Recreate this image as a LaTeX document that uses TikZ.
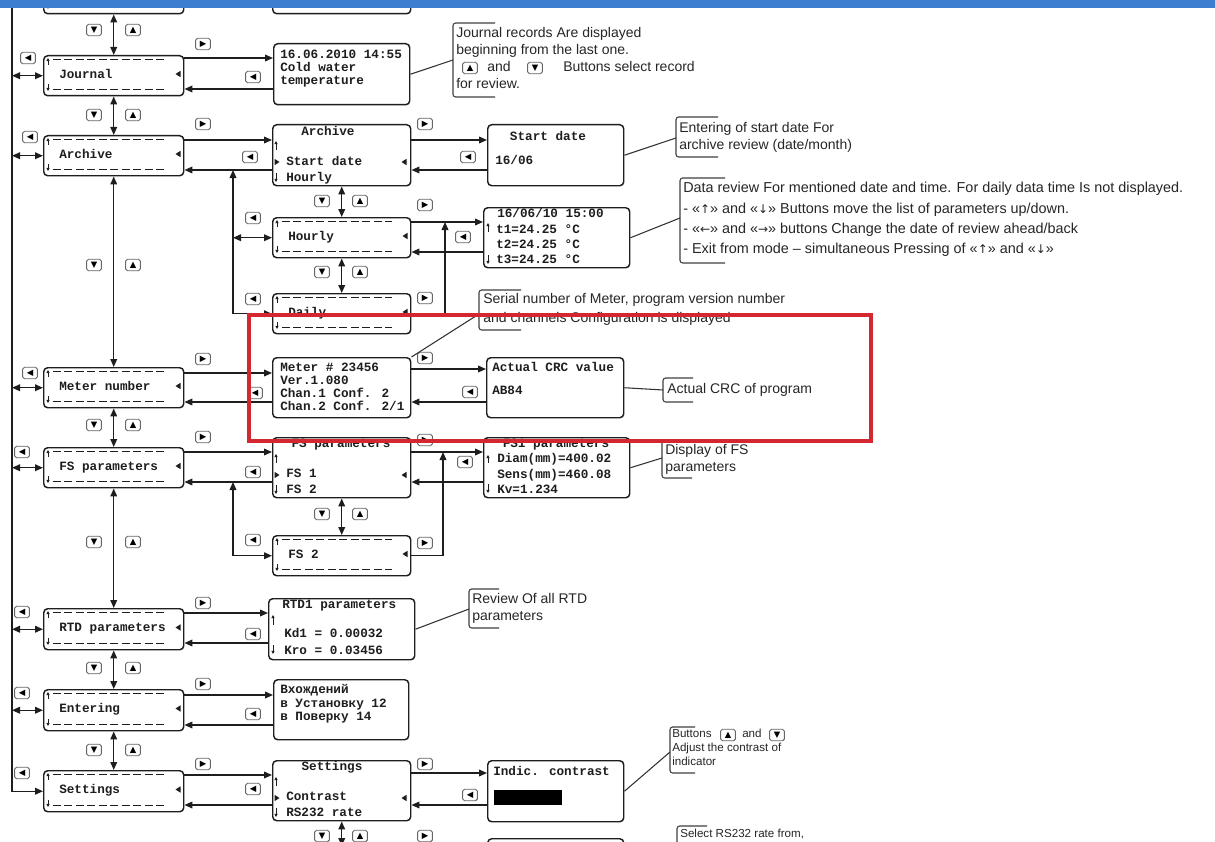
\documentclass[tikz,border=0pt]{standalone}
\usepackage{fontspec}
\setmainfont{Liberation Sans}
\newfontfamily\lcdfont{Liberation Mono}
\newfontfamily\symfont{DejaVu Sans}
\usetikzlibrary{arrows.meta,calc}
\definecolor{redbox}{RGB}{212,40,48}
\definecolor{topbar}{RGB}{62,126,208}
\definecolor{ln}{RGB}{30,30,30}
\newcounter{tn}
\newcounter{bn}
\newcommand\ua{{\symfont\fontsize{9}{10}\selectfont ↑}}
\newcommand\da{{\symfont\fontsize{9}{10}\selectfont ↓}}
\newcommand\la{{\symfont\fontsize{9}{10}\selectfont ←}}
\newcommand\ra{{\symfont\fontsize{9}{10}\selectfont →}}
\tikzset{
 box/.style={draw=ln, line width=1.1pt, rounded corners=3pt, inner sep=0pt, anchor=north west, fill=white},
 arr/.style={draw=ln, line width=1.1pt, -{Triangle[length=6pt,width=5pt]}},
 darr/.style={draw=ln, line width=1.1pt, {Triangle[length=6pt,width=5pt]}-{Triangle[length=6pt,width=5pt]}},
 dsh/.style={draw=ln, line width=0.9pt, dash pattern=on 6pt off 2.6pt},
 tiny/.style={draw=ln, line width=0.6pt, -{Triangle[length=2.4pt,width=2.4pt]}},
 lcd/.style={font=\lcdfont\bfseries\fontsize{9.5}{11}\selectfont, inner sep=0pt, text=ln, text height=6.5pt, text depth=1.5pt},
 note/.style={font=\fontsize{10.5}{12}\selectfont, inner sep=0pt, text=black!85, text height=7pt, text depth=2pt},
 notew/.style={note, font=\fontsize{10.8}{12}\selectfont},
 small/.style={font=\fontsize{8.7}{9.5}\selectfont, inner sep=0pt, text=black!85, text height=6pt, text depth=1.6pt},
 btnbox/.style={draw=black!60, line width=0.7pt, rounded corners=1.3pt, minimum width=11pt, minimum height=8.6pt, inner sep=0pt, font=\symfont\fontsize{6.3}{6.3}\selectfont, fill=white},
 brk/.style={draw=black!75, line width=0.8pt, rounded corners=2pt},
 lead/.style={draw=black!80, line width=0.8pt},
}
\newcommand\mup[3]{\draw[tiny] (#1,#3) -- (#1,#2);}
\newcommand\mdn[3]{\draw[tiny] (#1,#2) -- (#1,#3);}
\newcommand\mrt[2]{\fill[ln] (#1-2.5,#2-3.2) -- (#1+2.5,#2) -- (#1-2.5,#2+3.2) -- cycle;}
\newcommand\mlt[2]{\fill[ln] (#1+2.5,#2-3.2) -- (#1-2.5,#2) -- (#1+2.5,#2+3.2) -- cycle;}
\newcommand\lbdeco[4]{%
 \draw[dsh] (#1+10,#2+4.5) -- (#1+#3-18,#2+4.5);
 \draw[dsh] (#1+10,#2+#4-5.5) -- (#1+#3-18,#2+#4-5.5);
 \mup{#1+5}{#2+3}{#2+10}
 \mdn{#1+5}{#2+#4-11}{#2+#4-4}
 \mlt{#1+#3-5}{#2+#4/2-1}}
\newcommand\menumarks[4]{%
 \mup{#1+4}{#2+17}{#2+26}
 \mrt{#1+5}{#2+38}
 \mdn{#1+4}{#2+#4-12}{#2+#4-3}
 \mlt{#1+#3-6}{#2+38}}
\newcommand\lbox[6]{%
 \node[box,minimum width=#4*0.75pt,minimum height=#5*0.75pt] (#1) at (#2,#3) {};
 \lbdeco{#2}{#3}{#4}{#5}
 \node[lcd,anchor=west] (#1-l) at (#2+16,#3+#5/2) {#6};}
\newcommand\scr[5]{\node[box,minimum width=#4*0.75pt,minimum height=#5*0.75pt] (#1) at (#2,#3) {};}
\newcommand\tx[4]{\stepcounter{tn}\node[#1,anchor=west] (t\arabic{tn}) at (#2,#3) {#4};}
\newcommand\txc[4]{\stepcounter{tn}\node[#1,anchor=center] (t\arabic{tn}) at (#2,#3) {#4};}
\newcommand\btn[3]{\stepcounter{bn}\node[btnbox] (b\arabic{bn}) at (#1,#2) {#3};}
\newcommand\hlink[4]{%
 \draw[arr] (#1.east |- 0,#3) -- (#2.west |- 0,#3);
 \draw[arr] (#2.west |- 0,#4) -- (#1.east |- 0,#4);}
\newcommand\callbrk[4]{\draw[brk] (#1+#4,#2) -- (#1,#2) -- (#1,#3) -- (#1+#4,#3);}

\begin{document}
\begin{tikzpicture}[x=0.75pt,y=-0.75pt]
\useasboundingbox (0,0) rectangle (1215,842);
\fill[white] (0,0) rectangle (1215,842);

% ---------- column 1 ----------
\lbox{L0}{43}{-27}{140}{40}{}
\lbox{jl}{43}{55}{140}{40}{Journal}
\lbox{al}{43}{135}{140}{40}{Archive}
\lbox{ml}{43}{367}{140}{40}{Meter number}
\lbox{fl}{43}{447}{140}{40}{FS parameters}
\lbox{rl}{43}{608}{140}{41}{RTD parameters}
\lbox{el}{43}{689}{140}{41}{Entering}
\lbox{sl}{43}{770}{140}{41}{Settings}

% ---------- column 2 ----------
\scr{C0}{272}{-47}{138}{60}
\scr{jr}{273}{43}{136}{61}
\scr{ar}{272}{124}{138}{61}
\menumarks{272}{124}{138}{61}
\lbox{hr}{272}{217}{138}{40}{Hourly}
\lbox{dy}{272}{293}{138}{40}{Daily}
\scr{mr}{272}{357}{138}{60}
\scr{fr}{272}{437}{138}{60}
\menumarks{272}{437}{138}{60}
\lbox{f2}{272}{535}{138}{40}{FS 2}
\scr{rr}{268}{598}{146}{61}
\scr{er}{273}{679}{135}{60}
\scr{sr}{272}{760}{138}{60}
\menumarks{272}{760}{138}{60}
\scr{C9}{272}{846}{138}{40}

% ---------- column 3 ----------
\scr{sd}{487}{124}{136}{61}
\scr{hd}{483}{207}{146}{60}
\scr{cr}{486}{357}{137}{60}
\scr{fp}{483}{437}{146}{60}
\scr{ic}{487}{760}{136}{61}
\scr{D9}{487}{838}{136}{60}

% data marks
\mup{488}{223}{232} \mdn{488}{255}{264}
\mup{488}{455}{463} \mdn{488}{484}{493}
\mup{273}{615}{625} \mdn{273}{645}{654}

% ---------- screen texts ----------
\tx{lcd}{280}{55}{16.06.2010 14:55}
\tx{lcd}{280}{68}{Cold water}
\tx{lcd}{280}{81}{temperature}
\txc{lcd}{328}{132}{Archive}
\tx{lcd}{286}{162}{Start date}
\tx{lcd}{286}{178}{Hourly}
\txc{lcd}{548}{137}{Start date}
\tx{lcd}{495}{161}{16/06}
\tx{lcd}{497}{214}{16/06/10 15:00}
\tx{lcd}{496}{230}{t1=24.25 °C}
\tx{lcd}{496}{245}{t2=24.25 °C}
\tx{lcd}{496}{260}{t3=24.25 °C}
\tx{lcd}{280}{368}{Meter \# 23456}
\tx{lcd}{280}{381}{Ver.1.080}
\tx{lcd}{280}{394}{Chan.1 Conf. 2}
\tx{lcd}{280}{407}{Chan.2 Conf. 2/1}
\tx{lcd}{492}{368}{Actual CRC value}
\tx{lcd}{492}{391}{AB84}
\txc{lcd}{341}{444}{FS parameters}
\tx{lcd}{286}{474}{FS 1}
\tx{lcd}{286}{490}{FS 2}
\txc{lcd}{556}{444}{FS1 parameters}
\tx{lcd}{497}{459}{Diam(mm)=400.02}
\tx{lcd}{497}{475}{Sens(mm)=460.08}
\tx{lcd}{497}{490}{Kv=1.234}
\tx{lcd}{282}{605}{RTD1 parameters}
\tx{lcd}{284}{634}{Kd1 = 0.00032}
\tx{lcd}{284}{651}{Kro = 0.03456}
\tx{lcd}{280}{690}{Вхождений}
\tx{lcd}{280}{704}{в Установку 12}
\tx{lcd}{280}{717}{в Поверку 14}
\txc{lcd}{332}{767}{Settings}
\tx{lcd}{286}{797}{Contrast}
\tx{lcd}{286}{813}{RS232 rate}
\tx{lcd}{493}{772}{Indic. contrast}
\fill[black] (494,790) rectangle (562,805);

% ---------- connectors ----------
\coordinate (vt) at (12,8);
\draw[arr] (vt) |- (sl.west);
\foreach \n in {jl,al,ml,fl,rl,el}{\draw[darr] (vt |- \n.west) -- (\n.west);}
\draw[darr] (L0.south) -- (jl.north);
\draw[darr] (jl.south) -- (al.north);
\draw[darr] (al.south) -- (ml.north);
\draw[darr] (ml.south) -- (fl.north);
\draw[darr] (fl.south) -- (rl.north);
\draw[darr] (rl.south) -- (el.north);
\draw[darr] (el.south) -- (sl.north);
\draw[darr] (ar.south) -- (hr.north);
\draw[darr] (hr.south) -- (dy.north);
\draw[darr] (fr.south) -- (f2.north);
\draw[darr] (sr.south) -- (C9.north);

\hlink{jl}{jr}{58}{89}
\hlink{al}{ar}{140}{170}
\hlink{ml}{mr}{373}{402}
\hlink{fl}{fr}{452}{482}
\hlink{rl}{rr}{613}{643}
\hlink{el}{er}{695}{725}
\hlink{sl}{sr}{775}{805}
\hlink{ar}{sd}{140}{170}
\hlink{hr}{hd}{222}{252}
\hlink{mr}{cr}{369}{402}
\hlink{fr}{fp}{452}{482}
\hlink{sr}{ic}{773}{805}

\coordinate (aj) at (233,170);
\draw[darr] (dy.west) -| (aj);
\draw[darr] (aj |- hr.west) -- (hr.west);
\coordinate (hj) at (445,222);
\draw[arr] (dy.east) -| (hj);
\coordinate (fj) at (233,482);
\draw[darr] (f2.west) -| (fj);
\coordinate (fk) at (443,452);
\draw[arr] (f2.east) -| (fk);

% ---------- buttons ----------
\foreach \x/\y in {28/58,30/137,30/373,22/452,22/612,22/693,22/773,253/77,250/157,255/393,253/472,253/634,253/714,253/789,253/218,253/299,253/540,468/157,463/237,470/392,465/462,470/795}{\btn{\x}{\y}{◀}}
\foreach \x/\y in {203/44,203/124,203/359,203/437,203/603,203/684,203/764,425/124,425/205,425/298,425/358,425/440,425/543,425/764,425/836}{\btn{\x}{\y}{▶}}
\foreach \y in {30,115,265,425,542,668,750}{\btn{94}{\y}{▼}\btn{133}{\y}{▲}}
\foreach \y in {201,272,514,836}{\btn{322}{\y}{▼}\btn{360}{\y}{▲}}

% ---------- callouts ----------
\callbrk{453}{23}{97}{42}
\coordinate (cj) at (453,60); \draw[lead] (jr.east) -- (cj);
\tx{note}{456}{34}{Journal records Are displayed}
\tx{note}{456}{51}{beginning from the last one.}
\btn{470}{68}{▲}\tx{note}{487}{68}{and}\btn{535}{68}{▼}
\tx{note}{563}{68}{Buttons select record}
\tx{note}{456}{85}{for review.}

\callbrk{676}{117}{157}{42}
\coordinate (cs) at (676,138); \draw[lead] (sd.east) -- (cs);
\tx{note}{679}{129}{Entering of start date For}
\tx{note}{679}{146}{archive review (date/month)}

\callbrk{680}{178}{263}{45}
\coordinate (ch) at (680,218); \draw[lead] (hd.east) -- (ch);
\tx{notew}{683}{189}{Data review For mentioned date and time. For daily data time  Is not displayed.}
\tx{notew}{683}{210}{- «\ua» and «\da» Buttons move the list of parameters up/down.}
\tx{notew}{683}{230}{- «\la» and «\ra» buttons Change the date of review ahead/back}
\tx{notew}{683}{250}{- Exit from mode – simultaneous Pressing of «\ua» and «\da»}

\callbrk{479}{290}{330}{42}
\coordinate (cm) at (479,314); \draw[lead] (mr.north east) -- (cm);
\tx{note}{483}{300}{Serial number of Meter, program version number}
\tx{note}{483}{319}{and channels Configuration is displayed}

\callbrk{663}{378}{402}{30}
\coordinate (cc) at (663,390); \draw[lead] (cr.east) -- (cc);
\tx{note}{667}{390}{Actual CRC of program}

\callbrk{662}{440}{478}{30}
\coordinate (cf) at (662,458); \draw[lead] (fp.east) -- (cf);
\tx{note}{665}{451}{Display of FS}
\tx{note}{665}{468}{parameters}

\callbrk{469}{589}{628}{30}
\coordinate (cr2) at (469,609); \draw[lead] (rr.east) -- (cr2);
\tx{note}{472}{600}{Review Of all RTD}
\tx{note}{472}{617}{parameters}

\callbrk{670}{727}{773}{25}
\coordinate (ck) at (670,752); \draw[lead] (ic.east) -- (ck);
\tx{small}{672}{735}{Buttons}\btn{728}{735}{▲}\tx{small}{742}{735}{and}\btn{777}{735}{▼}
\tx{small}{672}{749}{Adjust the contrast of}
\tx{small}{672}{763}{indicator}

\callbrk{677}{826}{870}{30}
\tx{small}{680}{835}{Select RS232 rate from,}

% ---------- overlays ----------
\draw[redbox, line width=2.4pt] (249,315) rectangle (871,441);
\fill[topbar] (0,0) rectangle (1215,8);
\end{tikzpicture}
\end{document}
